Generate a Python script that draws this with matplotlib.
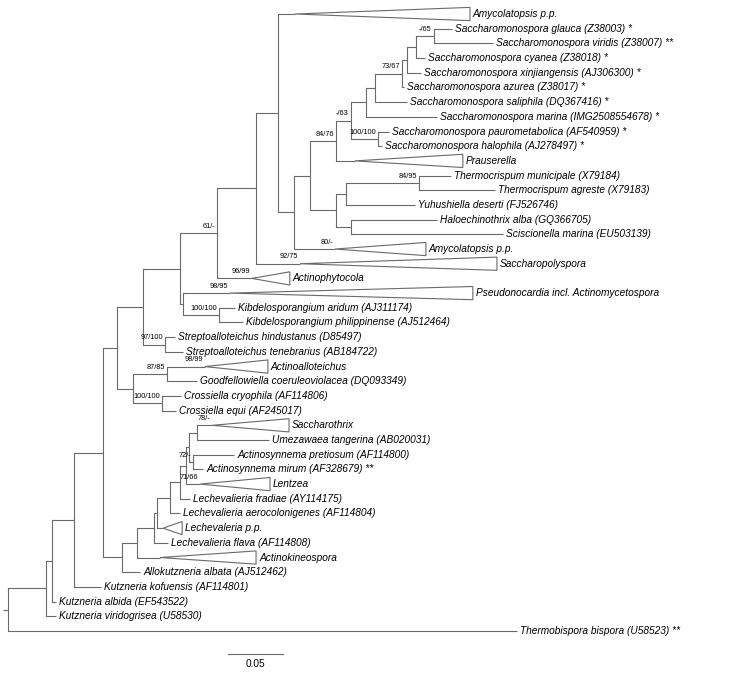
import matplotlib
matplotlib.use("Agg")
import matplotlib.pyplot as plt
from matplotlib.patches import Polygon

plt.rcParams['font.family'] = ['Liberation Sans', 'DejaVu Sans']

# tree with branch lengths (substitutions/site), internal labels = bootstrap ML/MP
newick = (
    "(((((((((((AMY1:0.0155,"
    "((((((((((SGLA:0.0164,SVIR:0.0536)-/65:0.0164,SCYA:0.0082):0.0082,SXIN:0.0127):0.0045,"
    "SAZU:0.0018)73/67:0.0245,SSAL:0.0291):0.0082,SMAR:0.0645):0.0136,"
    "(SPAU:0.0100,SHAL:0.0036)100/100:0.0245)-/63:0.0136,PRAU:0.0173)84/76:0.0236,"
    "(((TMUN:0.0291,TAGR:0.0691)84/95:0.0664,YDES:0.0627):0.0091,"
    "(HALB:0.0782,SCIS:0.1382):0.0136):0.0236):0.0145,AMY2:0.0373):0.0145):0.0200,"
    "SPOL:0.0400):0.0355,APHY:0.0318)61/-:0.0336,"
    "(PSEU:0.0427,(KARI:0.0145,KPHI:0.0218)100/100:0.0327):0.0027):0.0336,"
    "(SHIN:0.0091,STEN:0.0164)97/100:0.0200):0.0236,"
    "((AALL:0.0345,GCOE:0.0273)87/85:0.0309,(CCRY:0.0173,CEQU:0.0127)100/100:0.0264):0.0145):0.0127,"
    "(((((((((STHX:0.0136,UTAN:0.0655):0.0073,(APRE:0.0373,AMIR:0.0091)72/-:0.0036):0.0027,"
    "LENT:0.0127):0.0055,LFRA:0.0091):0.0091,LAER:0.0091):0.0118,LECH:0.0055):0.0027,"
    "LFLA:0.0127):0.0155,AKIN:0.0209):0.0136,AALB:0.0164):0.0173):0.0264,KKOF:0.0245):0.0200,"
    "KALB:0.0036):0.0055,KVIR:0.0091):0.0345,TBIS:0.4627);"
)

tip_label = {
    'AMY1': 'Amycolatopsis p.p.',
    'SGLA': 'Saccharomonospora glauca (Z38003) *',
    'SVIR': 'Saccharomonospora viridis (Z38007) **',
    'SCYA': 'Saccharomonospora cyanea (Z38018) *',
    'SXIN': 'Saccharomonospora xinjiangensis (AJ306300) *',
    'SAZU': 'Saccharomonospora azurea (Z38017) *',
    'SSAL': 'Saccharomonospora saliphila (DQ367416) *',
    'SMAR': 'Saccharomonospora marina (IMG2508554678) *',
    'SPAU': 'Saccharomonospora paurometabolica (AF540959) *',
    'SHAL': 'Saccharomonospora halophila (AJ278497) *',
    'PRAU': 'Prauserella',
    'TMUN': 'Thermocrispum municipale (X79184)',
    'TAGR': 'Thermocrispum agreste (X79183)',
    'YDES': 'Yuhushiella deserti (FJ526746)',
    'HALB': 'Haloechinothrix alba (GQ366705)',
    'SCIS': 'Sciscionella marina (EU503139)',
    'AMY2': 'Amycolatopsis p.p.',
    'SPOL': 'Saccharopolyspora',
    'APHY': 'Actinophytocola',
    'PSEU': 'Pseudonocardia incl. Actinomycetospora',
    'KARI': 'Kibdelosporangium aridum (AJ311174)',
    'KPHI': 'Kibdelosporangium philippinense (AJ512464)',
    'SHIN': 'Streptoalloteichus hindustanus (D85497)',
    'STEN': 'Streptoalloteichus tenebrarius (AB184722)',
    'AALL': 'Actinoalloteichus',
    'GCOE': 'Goodfellowiella coeruleoviolacea (DQ093349)',
    'CCRY': 'Crossiella cryophila (AF114806)',
    'CEQU': 'Crossiella equi (AF245017)',
    'STHX': 'Saccharothrix',
    'UTAN': 'Umezawaea tangerina (AB020031)',
    'APRE': 'Actinosynnema pretiosum (AF114800)',
    'AMIR': 'Actinosynnema mirum (AF328679) **',
    'LENT': 'Lentzea',
    'LFRA': 'Lechevalieria fradiae (AY114175)',
    'LAER': 'Lechevalieria aerocolonigenes (AF114804)',
    'LECH': 'Lechevaleria p.p.',
    'LFLA': 'Lechevalieria flava (AF114808)',
    'AKIN': 'Actinokineospora',
    'AALB': 'Allokutzneria albata (AJ512462)',
    'KKOF': 'Kutzneria kofuensis (AF114801)',
    'KALB': 'Kutzneria albida (EF543522)',
    'KVIR': 'Kutzneria viridogrisea (U58530)',
    'TBIS': 'Thermobispora bispora (U58523) **',
}

# collapsed clades: depth of the triangle
collapsed = {
    'AMY1': 0.1591, 'PRAU': 0.0982, 'AMY2': 0.0827, 'SPOL': 0.1791,
    'APHY': 0.0345, 'PSEU': 0.2209, 'AALL': 0.0573, 'STHX': 0.0700,
    'LENT': 0.0636, 'LECH': 0.0173, 'AKIN': 0.0873,
}
clade_support = {
    'AMY2': '80/-', 'SPOL': '92/75', 'APHY': '96/99', 'PSEU': '98/95',
    'AALL': '98/99', 'STHX': '78/-', 'LENT': '71/66',
}

scale_len = 0.05


def parse(s):
    pos = 0

    def node():
        nonlocal pos
        kids = []
        if s[pos] == '(':
            pos += 1
            kids.append(node())
            while s[pos] == ',':
                pos += 1
                kids.append(node())
            pos += 1
        start = pos
        while s[pos] not in ',():;':
            pos += 1
        name = s[start:pos]
        bl = 0.0
        if s[pos] == ':':
            pos += 1
            start = pos
            while s[pos] not in ',();':
                pos += 1
            bl = float(s[start:pos])
        return {'name': name, 'bl': bl, 'kids': kids}

    return node()


tree = parse(newick)
leaf_count = [0]


def layout(n, x0):
    n['x'] = x0 + n['bl']
    if n['kids']:
        for k in n['kids']:
            layout(k, n['x'])
        n['y'] = (n['kids'][0]['y'] + n['kids'][-1]['y']) / 2
    else:
        n['y'] = leaf_count[0]
        leaf_count[0] += 1


tree['bl'] = 0.0
layout(tree, 0.0)

fig = plt.figure(figsize=(7.5, 6.77), dpi=100)
ax = fig.add_axes([0, 0, 1, 1])
PX = 1100.0   # px per unit
LY = 14.69    # px per leaf
ax.set_xlim(-8 / PX, 742 / PX)
ax.set_ylim((677 - 14) / LY, -14 / LY)
ax.axis('off')

lc = '#6a6a6a'
lw = 0.8
gap = 3 / PX


def draw(n, parent_x):
    ax.plot([parent_x, n['x']], [n['y'], n['y']], color=lc, lw=lw, solid_capstyle='butt')
    if n['kids']:
        ax.plot([n['x'], n['x']], [n['kids'][0]['y'], n['kids'][-1]['y']], color=lc, lw=lw)
        for k in n['kids']:
            draw(k, n['x'])
        if n['name']:
            ax.text(n['x'] - 2 / PX, n['y'] - 0.22, n['name'], fontsize=5.3,
                    ha='right', va='bottom')
        return
    name = n['name']
    end = n['x']
    if name in collapsed:
        h = 0.45
        right = n['x'] + collapsed[name]
        ax.add_patch(Polygon([(n['x'], n['y']), (right, n['y'] - h), (right, n['y'] + h)],
                             closed=True, fill=False, edgecolor=lc, lw=lw))
        end = right
        if name in clade_support:
            ax.text(n['x'] - 2 / PX, n['y'] - 0.22, clade_support[name], fontsize=5.3,
                    ha='right', va='bottom')
    ax.text(end + gap, n['y'], tip_label[name], fontsize=7.3, style='italic',
            ha='left', va='center')


draw(tree, tree['x'] - 5 / PX)

# scale bar
sy = (654 - 14) / LY
ax.plot([0.2, 0.2 + scale_len], [sy, sy], color=lc, lw=lw)
ax.text(0.2 + scale_len / 2, sy + 0.35, str(scale_len), fontsize=7.3, ha='center', va='top')

fig.savefig('out.png', dpi=100)
